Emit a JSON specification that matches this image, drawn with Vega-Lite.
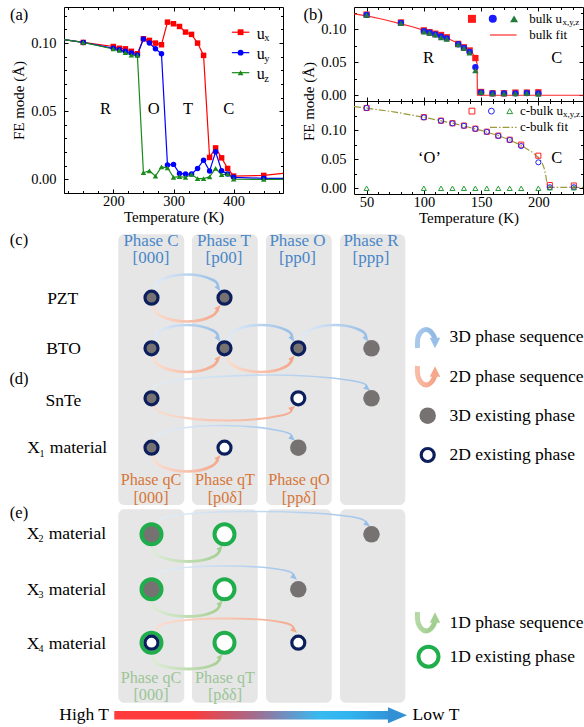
{
"$schema":"https://vega.github.io/schema/vega-lite/v6.json",
"padding":{"left":9,"top":6,"right":0,"bottom":0},
"config":{
 "font":"Liberation Serif, DejaVu Serif, serif",
 "view":{"stroke":"black","strokeWidth":1},
 "axis":{"domain":false,"grid":false,"tickColor":"black","tickSize":-4,"tickWidth":1,"labelFont":"Liberation Serif, DejaVu Serif, serif","labelFontSize":14.5,"labelColor":"black","titleFont":"Liberation Serif, DejaVu Serif, serif","titleFontSize":15,"titleFontWeight":"normal","titleColor":"black","labelPadding":5},
 "text":{"font":"Liberation Serif, DejaVu Serif, serif","color":"black"}
},
"resolve":{"scale":{"color":"independent","shape":"independent"}},
"datasets":{
 "aser":[
  {"c":"ux","T":100,"v":0.1036},{"c":"ux","T":150,"v":0.1005},{"c":"ux","T":200,"v":0.0975},{"c":"ux","T":210,"v":0.0962},{"c":"ux","T":220,"v":0.0958},{"c":"ux","T":230,"v":0.094},{"c":"ux","T":240,"v":0.0922},{"c":"ux","T":250,"v":0.1032},{"c":"ux","T":260,"v":0.102},{"c":"ux","T":270,"v":0.1},{"c":"ux","T":280,"v":0.0988},{"c":"ux","T":290,"v":0.1154},{"c":"ux","T":300,"v":0.1142},{"c":"ux","T":310,"v":0.1122},{"c":"ux","T":320,"v":0.1081},{"c":"ux","T":330,"v":0.1064},{"c":"ux","T":340,"v":0.1},{"c":"ux","T":350,"v":0.091},{"c":"ux","T":360,"v":0.0161},{"c":"ux","T":370,"v":0.0231},{"c":"ux","T":380,"v":0.0158},{"c":"ux","T":390,"v":0.008},{"c":"ux","T":400,"v":0.0024},{"c":"ux","T":450,"v":0.0029},{"c":"ux","T":500,"v":0.0053},
  {"c":"uy","T":100,"v":0.1036},{"c":"uy","T":150,"v":0.1005},{"c":"uy","T":200,"v":0.0962},{"c":"uy","T":210,"v":0.0952},{"c":"uy","T":220,"v":0.094},{"c":"uy","T":230,"v":0.0928},{"c":"uy","T":240,"v":0.0912},{"c":"uy","T":250,"v":0.103},{"c":"uy","T":260,"v":0.1},{"c":"uy","T":270,"v":0.0959},{"c":"uy","T":280,"v":0.0922},{"c":"uy","T":290,"v":0.0105},{"c":"uy","T":300,"v":0.011},{"c":"uy","T":310,"v":0.0044},{"c":"uy","T":320,"v":0.0039},{"c":"uy","T":330,"v":0.0039},{"c":"uy","T":340,"v":0.008},{"c":"uy","T":350,"v":0.0141},{"c":"uy","T":360,"v":0.0061},{"c":"uy","T":370,"v":0.0202},{"c":"uy","T":380,"v":0.0063},{"c":"uy","T":390,"v":0.0039},{"c":"uy","T":400,"v":0.0015},{"c":"uy","T":450,"v":0.0008},{"c":"uy","T":500,"v":0.0008},
  {"c":"uz","T":100,"v":0.1036},{"c":"uz","T":150,"v":0.1005},{"c":"uz","T":200,"v":0.0957},{"c":"uz","T":210,"v":0.0947},{"c":"uz","T":220,"v":0.093},{"c":"uz","T":230,"v":0.0912},{"c":"uz","T":240,"v":0.091},{"c":"uz","T":250,"v":0.0049},{"c":"uz","T":260,"v":0.0063},{"c":"uz","T":270,"v":0.0024},{"c":"uz","T":280,"v":0.0092},{"c":"uz","T":290,"v":0.0085},{"c":"uz","T":300,"v":0.0015},{"c":"uz","T":310,"v":0.002},{"c":"uz","T":320,"v":0.0015},{"c":"uz","T":330,"v":0.0037},{"c":"uz","T":340,"v":0.0005},{"c":"uz","T":350,"v":0.0005},{"c":"uz","T":360,"v":0.0019},{"c":"uz","T":370,"v":0.008},{"c":"uz","T":380,"v":0.0034},{"c":"uz","T":390,"v":0.004},{"c":"uz","T":400,"v":0.0002},{"c":"uz","T":450,"v":0},{"c":"uz","T":500,"v":0}
 ],
 "aleg":[
  {"c":"ux","T1":397,"T2":426,"Tm":411.5,"v":0.108,"Tt":438.5,"vt":0.107,"lab":"u","Ts":451,"vs":0.1035,"sub":"x"},
  {"c":"uy","T1":397,"T2":426,"Tm":411.5,"v":0.093,"Tt":438.5,"vt":0.092,"lab":"u","Ts":451,"vs":0.0885,"sub":"y"},
  {"c":"uz","T1":397,"T2":426,"Tm":411.5,"v":0.0783,"Tt":438.5,"vt":0.0773,"lab":"u","Ts":451,"vs":0.0738,"sub":"z"}
 ],
 "aph":[{"T":187,"v":0.052,"t":"R"},{"T":267,"v":0.052,"t":"O"},{"T":324,"v":0.052,"t":"T"},{"T":392,"v":0.052,"t":"C"}],
 "alab":[{"T":43.4,"v":0.1209,"t":"(a)"}],
 "bfit":[{"T":39,"v":0.1235},{"T":50,"v":0.1205},{"T":65,"v":0.115},{"T":80,"v":0.1085},{"T":90,"v":0.104},{"T":100,"v":0.0985},{"T":110,"v":0.093},{"T":120,"v":0.087},{"T":130,"v":0.079},{"T":135,"v":0.0745},{"T":140,"v":0.068},{"T":143,"v":0.0625},{"T":145,"v":0.0565},{"T":146.5,"v":0.048},{"T":146.8,"v":0},{"T":239,"v":0}],
 "bpts":[
  {"c":"ux","T":50,"v":0.1225},{"c":"ux","T":80,"v":0.1105},{"c":"ux","T":100,"v":0.0985},{"c":"ux","T":105,"v":0.0958},{"c":"ux","T":110,"v":0.0935},{"c":"ux","T":115,"v":0.0915},{"c":"ux","T":120,"v":0.088},{"c":"ux","T":130,"v":0.078},{"c":"ux","T":135,"v":0.0728},{"c":"ux","T":140,"v":0.068},{"c":"ux","T":145,"v":0.0565},{"c":"ux","T":150,"v":0.005},{"c":"ux","T":160,"v":0.003},{"c":"ux","T":170,"v":0.003},{"c":"ux","T":180,"v":0.004},{"c":"ux","T":190,"v":0.004},{"c":"ux","T":200,"v":0.0045},
  {"c":"uy","T":50,"v":0.122},{"c":"uy","T":80,"v":0.11},{"c":"uy","T":100,"v":0.0975},{"c":"uy","T":105,"v":0.095},{"c":"uy","T":110,"v":0.0925},{"c":"uy","T":115,"v":0.0895},{"c":"uy","T":120,"v":0.0865},{"c":"uy","T":130,"v":0.0775},{"c":"uy","T":135,"v":0.072},{"c":"uy","T":140,"v":0.066},{"c":"uy","T":145,"v":0.0425},{"c":"uy","T":150,"v":0.0045},{"c":"uy","T":160,"v":0.003},{"c":"uy","T":170,"v":0.003},{"c":"uy","T":180,"v":0.003},{"c":"uy","T":190,"v":0.0035},{"c":"uy","T":200,"v":0.003},
  {"c":"uz","T":50,"v":0.122},{"c":"uz","T":80,"v":0.1095},{"c":"uz","T":100,"v":0.0965},{"c":"uz","T":105,"v":0.0945},{"c":"uz","T":110,"v":0.092},{"c":"uz","T":115,"v":0.0878},{"c":"uz","T":120,"v":0.0855},{"c":"uz","T":130,"v":0.077},{"c":"uz","T":135,"v":0.0715},{"c":"uz","T":140,"v":0.0645},{"c":"uz","T":145,"v":0.0375},{"c":"uz","T":150,"v":0.0045},{"c":"uz","T":160,"v":0.0025},{"c":"uz","T":170,"v":0.0025},{"c":"uz","T":180,"v":0.0025},{"c":"uz","T":190,"v":0.003},{"c":"uz","T":200,"v":0.002}
 ],
 "bleg":[{"T":142,"v":0.116,"c":"ux"},{"T":160.2,"v":0.116,"c":"uy"},{"T":178.8,"v":0.116,"c":"uz"}],
 "blegfit":[{"T1":157.8,"T2":181,"v":0.0915}],
 "btext":[{"T":192,"v":0.116,"t":"bulk u"},{"T":192,"v":0.0915,"t":"bulk fit"}],
 "bsub":[{"T":221,"v":0.1112,"t":"x,y,z"}],
 "bph":[{"T":104,"v":0.0561,"t":"R"},{"T":216,"v":0.056,"t":"C"}],
 "blab":[{"T":3.2,"v":0.1213,"t":"(b)"}],
 "cfit":[{"T":39,"v":0.1405},{"T":50,"v":0.1378},{"T":75,"v":0.131},{"T":100,"v":0.122},{"T":125,"v":0.112},{"T":150,"v":0.0995},{"T":165,"v":0.0905},{"T":175,"v":0.083},{"T":185,"v":0.074},{"T":195,"v":0.0615},{"T":200,"v":0.053},{"T":203,"v":0.045},{"T":205,"v":0.035},{"T":206.5,"v":0.022},{"T":207.5,"v":0.009},{"T":208.5,"v":0.0015},{"T":239,"v":0.0015}],
 "cpts":[
  {"c":"ux","T":50,"v":0.138},{"c":"ux","T":100,"v":0.1222},{"c":"ux","T":115,"v":0.1162},{"c":"ux","T":125,"v":0.1118},{"c":"ux","T":135,"v":0.1077},{"c":"ux","T":145,"v":0.1025},{"c":"ux","T":155,"v":0.0972},{"c":"ux","T":165,"v":0.0905},{"c":"ux","T":175,"v":0.0835},{"c":"ux","T":185,"v":0.075},{"c":"ux","T":200,"v":0.056},{"c":"ux","T":210,"v":0.0055},{"c":"ux","T":231,"v":0.0048},
  {"c":"uy","T":50,"v":0.138},{"c":"uy","T":100,"v":0.1218},{"c":"uy","T":115,"v":0.116},{"c":"uy","T":125,"v":0.1115},{"c":"uy","T":135,"v":0.1074},{"c":"uy","T":145,"v":0.1022},{"c":"uy","T":155,"v":0.097},{"c":"uy","T":165,"v":0.09},{"c":"uy","T":175,"v":0.083},{"c":"uy","T":185,"v":0.0726},{"c":"uy","T":200,"v":0.0446},{"c":"uy","T":210,"v":0.0018},{"c":"uy","T":231,"v":0.0018},
  {"c":"uz","T":50,"v":0},{"c":"uz","T":100,"v":0},{"c":"uz","T":115,"v":0},{"c":"uz","T":125,"v":0},{"c":"uz","T":135,"v":0},{"c":"uz","T":145,"v":0},{"c":"uz","T":155,"v":0},{"c":"uz","T":165,"v":0},{"c":"uz","T":175,"v":0},{"c":"uz","T":185,"v":0},{"c":"uz","T":200,"v":0},{"c":"uz","T":210,"v":0.001},{"c":"uz","T":231,"v":0.001}
 ],
 "cleg":[{"T":142,"v":0.1326,"c":"ux"},{"T":159,"v":0.1326,"c":"uy"},{"T":175,"v":0.1326,"c":"uz"}],
 "clegfit":[{"T1":157.8,"T2":181,"v":0.1046}],
 "ctext":[{"T":184,"v":0.1326,"t":"c-bulk u"},{"T":184,"v":0.1046,"t":"c-bulk fit"}],
 "csub":[{"T":221.6,"v":0.1278,"t":"x,y,z"}],
 "cph":[{"T":105,"v":0.0515,"t":"‘O’"},{"T":216,"v":0.0515,"t":"C"}],
 "dcol":[
  {"x":117.3,"x2":183.3,"y":234.3,"y2":505},{"x":191,"x2":256.7,"y":234.3,"y2":505},{"x":265,"x2":330.7,"y":234.3,"y2":505},{"x":339,"x2":404.3,"y":234.3,"y2":505},
  {"x":117.3,"x2":183.3,"y":509.3,"y2":702.7},{"x":191,"x2":256.7,"y":509.3,"y2":702.7},{"x":265,"x2":330.7,"y":509.3,"y2":702.7},{"x":339,"x2":404.3,"y":509.3,"y2":702.7}
 ],
 "darc":[
  {"id":"pzt_b","c":"b","s":1,"x":154,"y":290},{"id":"pzt_b","c":"b","s":1,"x":159,"y":280.5},{"id":"pzt_b","c":"b","s":1,"x":186,"y":274.5},{"id":"pzt_b","c":"b","s":1,"x":212,"y":280},{"id":"pzt_b","c":"b","s":1,"x":217,"y":287},
  {"id":"pzt_o","c":"o","s":1,"x":153,"y":306},{"id":"pzt_o","c":"o","s":1,"x":159,"y":315.5},{"id":"pzt_o","c":"o","s":1,"x":186,"y":321.5},{"id":"pzt_o","c":"o","s":1,"x":211,"y":316},{"id":"pzt_o","c":"o","s":1,"x":217,"y":308},
  {"id":"bto_b1","c":"b","s":1,"x":154,"y":341},{"id":"bto_b1","c":"b","s":1,"x":159,"y":331},{"id":"bto_b1","c":"b","s":1,"x":186,"y":325},{"id":"bto_b1","c":"b","s":1,"x":212,"y":330.5},{"id":"bto_b1","c":"b","s":1,"x":217,"y":338},
  {"id":"bto_b2","c":"b","s":1,"x":228,"y":341},{"id":"bto_b2","c":"b","s":1,"x":233,"y":331},{"id":"bto_b2","c":"b","s":1,"x":260,"y":325},{"id":"bto_b2","c":"b","s":1,"x":286,"y":330.5},{"id":"bto_b2","c":"b","s":1,"x":291,"y":338},
  {"id":"bto_b3","c":"b","s":1,"x":302,"y":341},{"id":"bto_b3","c":"b","s":1,"x":307,"y":331},{"id":"bto_b3","c":"b","s":1,"x":334,"y":325},{"id":"bto_b3","c":"b","s":1,"x":360,"y":330.5},{"id":"bto_b3","c":"b","s":1,"x":365,"y":338},
  {"id":"bto_o1","c":"o","s":1,"x":153,"y":357},{"id":"bto_o1","c":"o","s":1,"x":159,"y":366},{"id":"bto_o1","c":"o","s":1,"x":186,"y":372},{"id":"bto_o1","c":"o","s":1,"x":211,"y":366.5},{"id":"bto_o1","c":"o","s":1,"x":217,"y":358.5},
  {"id":"bto_o2","c":"o","s":1,"x":227,"y":357},{"id":"bto_o2","c":"o","s":1,"x":233,"y":366},{"id":"bto_o2","c":"o","s":1,"x":260,"y":372},{"id":"bto_o2","c":"o","s":1,"x":285,"y":366.5},{"id":"bto_o2","c":"o","s":1,"x":291,"y":358.5},
  {"id":"snte_b","c":"b","s":3,"x":154,"y":391},{"id":"snte_b","c":"b","s":3,"x":168,"y":381.5},{"id":"snte_b","c":"b","s":3,"x":262,"y":375},{"id":"snte_b","c":"b","s":3,"x":350,"y":380.5},{"id":"snte_b","c":"b","s":3,"x":366,"y":388},
  {"id":"snte_o","c":"o","s":2,"x":153,"y":406},{"id":"snte_o","c":"o","s":2,"x":168,"y":415},{"id":"snte_o","c":"o","s":2,"x":225,"y":420.5},{"id":"snte_o","c":"o","s":2,"x":280,"y":415.5},{"id":"snte_o","c":"o","s":2,"x":291,"y":408.5},
  {"id":"x1_b","c":"b","s":2,"x":154,"y":441},{"id":"x1_b","c":"b","s":2,"x":165,"y":431.5},{"id":"x1_b","c":"b","s":2,"x":222,"y":425.5},{"id":"x1_b","c":"b","s":2,"x":280,"y":431},{"id":"x1_b","c":"b","s":2,"x":291,"y":438},
  {"id":"x1_o","c":"o","s":1,"x":153,"y":456},{"id":"x1_o","c":"o","s":1,"x":159,"y":465.5},{"id":"x1_o","c":"o","s":1,"x":186,"y":471.5},{"id":"x1_o","c":"o","s":1,"x":211,"y":466},{"id":"x1_o","c":"o","s":1,"x":217,"y":458},
  {"id":"x2_b","c":"b","s":3,"x":157,"y":523},{"id":"x2_b","c":"b","s":3,"x":173,"y":515.5},{"id":"x2_b","c":"b","s":3,"x":255,"y":511.5},{"id":"x2_b","c":"b","s":3,"x":345,"y":516},{"id":"x2_b","c":"b","s":3,"x":366,"y":524},
  {"id":"x2_g","c":"g","s":1,"x":152,"y":547},{"id":"x2_g","c":"g","s":1,"x":158,"y":556},{"id":"x2_g","c":"g","s":1,"x":187,"y":561.5},{"id":"x2_g","c":"g","s":1,"x":213,"y":556.5},{"id":"x2_g","c":"g","s":1,"x":219,"y":548.5},
  {"id":"x3_b","c":"b","s":2,"x":156,"y":577},{"id":"x3_b","c":"b","s":2,"x":168,"y":569.5},{"id":"x3_b","c":"b","s":2,"x":227,"y":566},{"id":"x3_b","c":"b","s":2,"x":282,"y":570},{"id":"x3_b","c":"b","s":2,"x":293,"y":577},
  {"id":"x3_g","c":"g","s":1,"x":152,"y":602},{"id":"x3_g","c":"g","s":1,"x":158,"y":611},{"id":"x3_g","c":"g","s":1,"x":187,"y":616.5},{"id":"x3_g","c":"g","s":1,"x":213,"y":611.5},{"id":"x3_g","c":"g","s":1,"x":219,"y":603.5},
  {"id":"x4_o","c":"o","s":2,"x":156,"y":631},{"id":"x4_o","c":"o","s":2,"x":168,"y":622.5},{"id":"x4_o","c":"o","s":2,"x":227,"y":618.5},{"id":"x4_o","c":"o","s":2,"x":282,"y":622.5},{"id":"x4_o","c":"o","s":2,"x":293,"y":630},
  {"id":"x4_g","c":"g","s":1,"x":152,"y":656},{"id":"x4_g","c":"g","s":1,"x":158,"y":664.5},{"id":"x4_g","c":"g","s":1,"x":187,"y":669},{"id":"x4_g","c":"g","s":1,"x":213,"y":664.5},{"id":"x4_g","c":"g","s":1,"x":219,"y":657}
 ],
 "darr":[
  {"x":217.5,"y":288.5,"c":"b","ang":55},{"x":217.5,"y":307.5,"c":"o","ang":-50},
  {"x":217.5,"y":339,"c":"b","ang":55},{"x":291.5,"y":339,"c":"b","ang":55},{"x":365.5,"y":339,"c":"b","ang":55},
  {"x":217.5,"y":358,"c":"o","ang":-50},{"x":291.5,"y":358,"c":"o","ang":-50},
  {"x":366.5,"y":388.5,"c":"b","ang":35},{"x":291.5,"y":408,"c":"o","ang":-35},
  {"x":291.5,"y":438.5,"c":"b","ang":40},{"x":217.5,"y":457.5,"c":"o","ang":-50},
  {"x":366.5,"y":524.5,"c":"b","ang":35},{"x":219.5,"y":548,"c":"g","ang":-50},
  {"x":293.5,"y":577.5,"c":"b","ang":40},{"x":219.5,"y":603,"c":"g","ang":-50},
  {"x":293.5,"y":630.5,"c":"o","ang":40},{"x":219.5,"y":656.5,"c":"g","ang":-50}
 ],
 "dlarc":[
  {"id":"l3","c":"b","x":416.5,"y":348},{"id":"l3","c":"b","x":417.5,"y":336},{"id":"l3","c":"b","x":425,"y":329.5},{"id":"l3","c":"b","x":432,"y":334.5},{"id":"l3","c":"b","x":434,"y":340},
  {"id":"l2","c":"o","x":416.5,"y":366},{"id":"l2","c":"o","x":417.5,"y":378},{"id":"l2","c":"o","x":425,"y":385},{"id":"l2","c":"o","x":432,"y":380},{"id":"l2","c":"o","x":434,"y":374.5},
  {"id":"l1","c":"g","x":416.5,"y":612},{"id":"l1","c":"g","x":417.5,"y":624},{"id":"l1","c":"g","x":425,"y":631},{"id":"l1","c":"g","x":432,"y":626},{"id":"l1","c":"g","x":434,"y":620.5}
 ],
 "dlarr":[{"x":434,"y":343,"c":"b","ang":90},{"x":434,"y":371.5,"c":"o","ang":-90},{"x":434,"y":617.5,"c":"g","ang":-90}],
 "dcirc":[
  {"x":150.5,"y":297.7,"d3":true,"d2":true,"d1":false},{"x":223.5,"y":297.7,"d3":true,"d2":true,"d1":false},
  {"x":150.5,"y":348.3,"d3":true,"d2":true,"d1":false},{"x":223.5,"y":348.3,"d3":true,"d2":true,"d1":false},{"x":297.3,"y":348.3,"d3":true,"d2":true,"d1":false},{"x":370.5,"y":348.3,"d3":true,"d2":false,"d1":false},
  {"x":150.5,"y":398.3,"d3":true,"d2":true,"d1":false},{"x":297.3,"y":398.3,"d3":false,"d2":true,"d1":false},{"x":370.5,"y":398.3,"d3":true,"d2":false,"d1":false},
  {"x":150.5,"y":447.7,"d3":true,"d2":true,"d1":false},{"x":223.5,"y":447.7,"d3":false,"d2":true,"d1":false},{"x":297.3,"y":447.7,"d3":true,"d2":false,"d1":false},
  {"x":150.5,"y":534.3,"d3":true,"d2":false,"d1":true},{"x":223.5,"y":534.3,"d3":false,"d2":false,"d1":true},{"x":370.5,"y":534.3,"d3":true,"d2":false,"d1":false},
  {"x":150.5,"y":589.3,"d3":true,"d2":false,"d1":true},{"x":223.5,"y":589.3,"d3":false,"d2":false,"d1":true},{"x":297.3,"y":589.3,"d3":true,"d2":false,"d1":false},
  {"x":150.5,"y":642.7,"d3":false,"d2":true,"d1":true},{"x":223.5,"y":642.7,"d3":false,"d2":false,"d1":true},{"x":297.3,"y":642.7,"d3":false,"d2":true,"d1":false},
  {"x":426.7,"y":415.7,"d3":true,"d2":false,"d1":false},{"x":426.7,"y":455,"d3":false,"d2":true,"d1":false},{"x":427.5,"y":656.7,"d3":false,"d2":false,"d1":true}
 ],
 "dh3":[{"x":150,"y":240.5,"t":"Phase C"},{"x":150,"y":258,"t":"[000]"},{"x":223,"y":240.5,"t":"Phase T"},{"x":223,"y":258,"t":"[p00]"},{"x":296.5,"y":240.5,"t":"Phase O"},{"x":296.5,"y":258,"t":"[pp0]"},{"x":370,"y":240.5,"t":"Phase R"},{"x":370,"y":258,"t":"[ppp]"}],
 "dh2":[{"x":150,"y":480,"t":"Phase qC"},{"x":150,"y":497.5,"t":"[000]"},{"x":224,"y":480,"t":"Phase qT"},{"x":224,"y":497.5,"t":"[p0δ]"},{"x":298,"y":480,"t":"Phase qO"},{"x":298,"y":497.5,"t":"[ppδ]"}],
 "dh1":[{"x":150,"y":677.5,"t":"Phase qC"},{"x":150,"y":695,"t":"[000]"},{"x":224,"y":677.5,"t":"Phase qT"},{"x":224,"y":695,"t":"[pδδ]"}],
 "drow":[{"x":61.7,"y":299,"t":"PZT"},{"x":62.5,"y":349,"t":"BTO"},{"x":62.3,"y":400.5,"t":"SnTe"}],
 "dtxt":[
  {"x":26.3,"y":448,"t":"X"},{"x":48.8,"y":448,"t":"material"},
  {"x":25.7,"y":533.5,"t":"X"},{"x":47.7,"y":533.5,"t":"material"},
  {"x":25.7,"y":589.5,"t":"X"},{"x":47.7,"y":589.5,"t":"material"},
  {"x":25.7,"y":643.5,"t":"X"},{"x":47.7,"y":643.5,"t":"material"},
  {"x":448.5,"y":336.7,"t":"3D phase sequence"},{"x":448.5,"y":376.7,"t":"2D phase sequence"},{"x":448.5,"y":415.7,"t":"3D existing phase"},{"x":448.5,"y":455,"t":"2D existing phase"},
  {"x":448.5,"y":623.3,"t":"1D phase sequence"},{"x":448.5,"y":656.7,"t":"1D existing phase"},
  {"x":58.3,"y":715,"t":"High T"},{"x":411.5,"y":715,"t":"Low T"}
 ],
 "dsub":[{"x":38.5,"y":453.5,"t":"1"},{"x":37.5,"y":539,"t":"2"},{"x":37.5,"y":595,"t":"3"},{"x":37.5,"y":649,"t":"4"}],
 "dpl":[{"x":18,"y":240,"t":"(c)"},{"x":18,"y":379,"t":"(d)"},{"x":18,"y":512.7,"t":"(e)"}],
 "dbar":[{"x":113.3,"x2":390,"y":711,"y2":719.5}],
 "dtip":[{"x":396.5,"y":715.3}]
},
"spacing":0,
"vconcat":[
 {"spacing":17,"resolve":{"scale":{"color":"independent","shape":"independent"}},"hconcat":[
  {"width":219,"height":186,
   "layer":[
    {"data":{"name":"aser"},"mark":{"type":"line","clip":true,"strokeWidth":1.2},
     "encoding":{
      "x":{"field":"T","type":"quantitative","scale":{"domain":[118,482],"nice":false,"zero":false},"axis":{"orient":"bottom","values":[200,300,400],"title":"Temperature (K)","titlePadding":2}},
      "y":{"field":"v","type":"quantitative","scale":{"domain":[-0.01,0.1265],"nice":false,"zero":false},"axis":{"orient":"left","values":[0,0.05,0.1],"format":".2f","title":"FE mode (Å)","labelPadding":12,"titlePadding":4}},
      "color":{"field":"c","type":"nominal","scale":{"domain":["ux","uy","uz"],"range":["#ff0000","#0000ff","#1a8a1a"]},"legend":null}}},
    {"data":{"name":"aser"},"mark":{"type":"point","filled":true,"size":30,"opacity":1,"clip":true},
     "encoding":{
      "x":{"field":"T","type":"quantitative","scale":{"domain":[118,482],"nice":false,"zero":false},"axis":{"orient":"top","values":[200,300,400],"labels":false,"title":null}},
      "y":{"field":"v","type":"quantitative","scale":{"domain":[-0.01,0.1265],"nice":false,"zero":false},"axis":{"orient":"right","values":[0,0.05,0.1],"labels":false,"title":null}},
      "color":{"field":"c","type":"nominal","scale":{"domain":["ux","uy","uz"],"range":["#ff0000","#0000ff","#1a8a1a"]},"legend":null},
      "shape":{"field":"c","type":"nominal","scale":{"domain":["ux","uy","uz"],"range":["square","circle","triangle-up"]},"legend":null}}},
    {"data":{"name":"aleg"},"mark":{"type":"rule","strokeWidth":1.2},
     "encoding":{
      "x":{"field":"T1","type":"quantitative","scale":{"domain":[118,482],"nice":false,"zero":false},"axis":{"orient":"bottom","values":[125,150,175,225,250,275,325,350,375,425,450,475],"labels":false,"title":null,"tickSize":-2.5}},
      "x2":{"field":"T2"},
      "y":{"field":"v","type":"quantitative","scale":{"domain":[-0.01,0.1265],"nice":false,"zero":false},"axis":{"orient":"left","values":[-0.01,0.01,0.02,0.03,0.04,0.06,0.07,0.08,0.09,0.11,0.12],"labels":false,"title":null,"tickSize":-2.5}},
      "color":{"field":"c","type":"nominal","scale":{"domain":["ux","uy","uz"],"range":["#ff0000","#0000ff","#1a8a1a"]},"legend":null}}},
    {"data":{"name":"aleg"},"mark":{"type":"point","filled":true,"size":34,"opacity":1},
     "encoding":{
      "x":{"field":"Tm","type":"quantitative","scale":{"domain":[118,482],"nice":false,"zero":false},"axis":{"orient":"top","values":[125,150,175,225,250,275,325,350,375,425,450,475],"labels":false,"title":null,"tickSize":-2.5}},
      "y":{"field":"v","type":"quantitative","scale":{"domain":[-0.01,0.1265],"nice":false,"zero":false},"axis":{"orient":"right","values":[-0.01,0.01,0.02,0.03,0.04,0.06,0.07,0.08,0.09,0.11,0.12],"labels":false,"title":null,"tickSize":-2.5}},
      "color":{"field":"c","type":"nominal","scale":{"domain":["ux","uy","uz"],"range":["#ff0000","#0000ff","#1a8a1a"]},"legend":null},
      "shape":{"field":"c","type":"nominal","scale":{"domain":["ux","uy","uz"],"range":["square","circle","triangle-up"]},"legend":null}}},
    {"data":{"name":"aleg"},"mark":{"type":"text","align":"left","baseline":"middle","fontSize":16},
     "encoding":{
      "x":{"field":"Tt","type":"quantitative","scale":{"domain":[118,482],"nice":false,"zero":false},"axis":null},
      "y":{"field":"vt","type":"quantitative","scale":{"domain":[-0.01,0.1265],"nice":false,"zero":false},"axis":null},
      "text":{"field":"lab"}}},
    {"data":{"name":"aleg"},"mark":{"type":"text","align":"left","baseline":"middle","fontSize":10.5},
     "encoding":{
      "x":{"field":"Ts","type":"quantitative","scale":{"domain":[118,482],"nice":false,"zero":false},"axis":null},
      "y":{"field":"vs","type":"quantitative","scale":{"domain":[-0.01,0.1265],"nice":false,"zero":false},"axis":null},
      "text":{"field":"sub"}}},
    {"data":{"name":"aph"},"mark":{"type":"text","align":"center","baseline":"middle","fontSize":16.5},
     "encoding":{
      "x":{"field":"T","type":"quantitative","scale":{"domain":[118,482],"nice":false,"zero":false},"axis":null},
      "y":{"field":"v","type":"quantitative","scale":{"domain":[-0.01,0.1265],"nice":false,"zero":false},"axis":null},
      "text":{"field":"t"}}},
    {"data":{"name":"alab"},"mark":{"type":"text","align":"center","baseline":"middle","fontSize":16.5},
     "encoding":{
      "x":{"field":"T","type":"quantitative","scale":{"domain":[118,482],"nice":false,"zero":false},"axis":null},
      "y":{"field":"v","type":"quantitative","scale":{"domain":[-0.01,0.1265],"nice":false,"zero":false},"axis":null},
      "text":{"field":"t"}}}
   ],
   "resolve":{"axis":{"x":"independent","y":"independent"}}
  },
  {"spacing":0,"bounds":"flush","resolve":{"scale":{"color":"independent","shape":"independent"}},"vconcat":[
   {"width":229,"height":94,
    "layer":[
     {"data":{"name":"bfit"},"mark":{"type":"line","clip":true,"strokeWidth":1.2,"color":"#ff2a2a"},
      "encoding":{
       "x":{"field":"T","type":"quantitative","scale":{"domain":[39,239],"nice":false,"zero":false},"axis":{"orient":"bottom","values":[50,100,150,200],"labels":false,"title":null}},
       "y":{"field":"v","type":"quantitative","scale":{"domain":[-0.0087,0.134],"nice":false,"zero":false},"axis":{"orient":"left","values":[0,0.05,0.1],"format":".2f","title":null,"labelPadding":12}}}},
     {"data":{"name":"bpts"},"mark":{"type":"point","filled":true,"size":40,"opacity":1},
      "encoding":{
       "x":{"field":"T","type":"quantitative","scale":{"domain":[39,239],"nice":false,"zero":false},"axis":{"orient":"top","values":[50,100,150,200],"labels":false,"title":null}},
       "y":{"field":"v","type":"quantitative","scale":{"domain":[-0.0087,0.134],"nice":false,"zero":false},"axis":{"orient":"right","values":[0,0.05,0.1],"labels":false,"title":null}},
       "color":{"field":"c","type":"nominal","scale":{"domain":["ux","uy","uz"],"range":["#ff1a1a","#1a1aff","#217a3c"]},"legend":null},
       "shape":{"field":"c","type":"nominal","scale":{"domain":["ux","uy","uz"],"range":["square","circle","triangle-up"]},"legend":null}}},
     {"data":{"name":"bleg"},"mark":{"type":"point","filled":true,"size":64,"opacity":1},
      "encoding":{
       "x":{"field":"T","type":"quantitative","scale":{"domain":[39,239],"nice":false,"zero":false},"axis":{"orient":"bottom","values":[60,70,80,90,110,120,130,140,160,170,180,190,210,220,230],"labels":false,"title":null,"tickSize":-2.5}},
       "y":{"field":"v","type":"quantitative","scale":{"domain":[-0.0087,0.134],"nice":false,"zero":false},"axis":{"orient":"left","values":[0.025,0.075,0.125],"labels":false,"title":null,"tickSize":-2.5}},
       "color":{"field":"c","type":"nominal","scale":{"domain":["ux","uy","uz"],"range":["#ff1a1a","#1a1aff","#217a3c"]},"legend":null},
       "shape":{"field":"c","type":"nominal","scale":{"domain":["ux","uy","uz"],"range":["square","circle","triangle-up"]},"legend":null}}},
     {"data":{"name":"blegfit"},"mark":{"type":"rule","strokeWidth":1.2,"color":"#ff2a2a"},
      "encoding":{
       "x":{"field":"T1","type":"quantitative","scale":{"domain":[39,239],"nice":false,"zero":false},"axis":{"orient":"top","values":[60,70,80,90,110,120,130,140,160,170,180,190,210,220,230],"labels":false,"title":null,"tickSize":-2.5}},
       "x2":{"field":"T2"},
       "y":{"field":"v","type":"quantitative","scale":{"domain":[-0.0087,0.134],"nice":false,"zero":false},"axis":{"orient":"right","values":[0.025,0.075,0.125],"labels":false,"title":null,"tickSize":-2.5}}}},
     {"data":{"name":"btext"},"mark":{"type":"text","align":"left","baseline":"middle","fontSize":13},
      "encoding":{
       "x":{"field":"T","type":"quantitative","scale":{"domain":[39,239],"nice":false,"zero":false},"axis":null},
       "y":{"field":"v","type":"quantitative","scale":{"domain":[-0.0087,0.134],"nice":false,"zero":false},"axis":null},
       "text":{"field":"t"}}},
     {"data":{"name":"bsub"},"mark":{"type":"text","align":"left","baseline":"middle","fontSize":9},
      "encoding":{
       "x":{"field":"T","type":"quantitative","scale":{"domain":[39,239],"nice":false,"zero":false},"axis":null},
       "y":{"field":"v","type":"quantitative","scale":{"domain":[-0.0087,0.134],"nice":false,"zero":false},"axis":null},
       "text":{"field":"t"}}},
     {"data":{"name":"bph"},"mark":{"type":"text","align":"center","baseline":"middle","fontSize":16.5},
      "encoding":{
       "x":{"field":"T","type":"quantitative","scale":{"domain":[39,239],"nice":false,"zero":false},"axis":null},
       "y":{"field":"v","type":"quantitative","scale":{"domain":[-0.0087,0.134],"nice":false,"zero":false},"axis":null},
       "text":{"field":"t"}}},
     {"data":{"name":"blab"},"mark":{"type":"text","align":"center","baseline":"middle","fontSize":16.5},
      "encoding":{
       "x":{"field":"T","type":"quantitative","scale":{"domain":[39,239],"nice":false,"zero":false},"axis":null},
       "y":{"field":"v","type":"quantitative","scale":{"domain":[-0.0087,0.134],"nice":false,"zero":false},"axis":null},
       "text":{"field":"t"}}}
    ],
    "resolve":{"axis":{"x":"independent","y":"independent"}}
   },
   {"width":229,"height":93,
    "layer":[
     {"data":{"name":"cfit"},"mark":{"type":"line","clip":true,"strokeWidth":1.2,"color":"#9c9a3c","strokeDash":[7,2,1.5,2]},
      "encoding":{
       "x":{"field":"T","type":"quantitative","scale":{"domain":[39,239],"nice":false,"zero":false},"axis":{"orient":"bottom","values":[50,100,150,200],"title":"Temperature (K)","titlePadding":2}},
       "y":{"field":"v","type":"quantitative","scale":{"domain":[-0.0098,0.15],"nice":false,"zero":false},"axis":{"orient":"left","values":[0,0.05,0.1],"format":".2f","title":"FE mode (Å)","titleY":0,"labelPadding":12,"titlePadding":4}}}},
     {"data":{"name":"cpts"},"mark":{"type":"point","filled":false,"size":26,"strokeWidth":1,"opacity":1},
      "encoding":{
       "x":{"field":"T","type":"quantitative","scale":{"domain":[39,239],"nice":false,"zero":false},"axis":{"orient":"top","values":[50,100,150,200],"labels":false,"title":null}},
       "y":{"field":"v","type":"quantitative","scale":{"domain":[-0.0098,0.15],"nice":false,"zero":false},"axis":{"orient":"right","values":[0,0.05,0.1],"labels":false,"title":null}},
       "color":{"field":"c","type":"nominal","scale":{"domain":["ux","uy","uz"],"range":["#ff2020","#2020ff","#2a9a3a"]},"legend":null},
       "shape":{"field":"c","type":"nominal","scale":{"domain":["ux","uy","uz"],"range":["square","circle","triangle-up"]},"legend":null}}},
     {"data":{"name":"cleg"},"mark":{"type":"point","filled":false,"size":34,"strokeWidth":1,"opacity":1},
      "encoding":{
       "x":{"field":"T","type":"quantitative","scale":{"domain":[39,239],"nice":false,"zero":false},"axis":{"orient":"bottom","values":[60,70,80,90,110,120,130,140,160,170,180,190,210,220,230],"labels":false,"title":null,"tickSize":-2.5}},
       "y":{"field":"v","type":"quantitative","scale":{"domain":[-0.0098,0.15],"nice":false,"zero":false},"axis":{"orient":"left","values":[0.025,0.075,0.125],"labels":false,"title":null,"tickSize":-2.5}},
       "color":{"field":"c","type":"nominal","scale":{"domain":["ux","uy","uz"],"range":["#ff2020","#2020ff","#2a9a3a"]},"legend":null},
       "shape":{"field":"c","type":"nominal","scale":{"domain":["ux","uy","uz"],"range":["square","circle","triangle-up"]},"legend":null}}},
     {"data":{"name":"clegfit"},"mark":{"type":"rule","strokeWidth":1.2,"color":"#9c9a3c","strokeDash":[7,2,1.5,2]},
      "encoding":{
       "x":{"field":"T1","type":"quantitative","scale":{"domain":[39,239],"nice":false,"zero":false},"axis":{"orient":"top","values":[60,70,80,90,110,120,130,140,160,170,180,190,210,220,230],"labels":false,"title":null,"tickSize":-2.5}},
       "x2":{"field":"T2"},
       "y":{"field":"v","type":"quantitative","scale":{"domain":[-0.0098,0.15],"nice":false,"zero":false},"axis":{"orient":"right","values":[0.025,0.075,0.125],"labels":false,"title":null,"tickSize":-2.5}}}},
     {"data":{"name":"ctext"},"mark":{"type":"text","align":"left","baseline":"middle","fontSize":13},
      "encoding":{
       "x":{"field":"T","type":"quantitative","scale":{"domain":[39,239],"nice":false,"zero":false},"axis":null},
       "y":{"field":"v","type":"quantitative","scale":{"domain":[-0.0098,0.15],"nice":false,"zero":false},"axis":null},
       "text":{"field":"t"}}},
     {"data":{"name":"csub"},"mark":{"type":"text","align":"left","baseline":"middle","fontSize":9},
      "encoding":{
       "x":{"field":"T","type":"quantitative","scale":{"domain":[39,239],"nice":false,"zero":false},"axis":null},
       "y":{"field":"v","type":"quantitative","scale":{"domain":[-0.0098,0.15],"nice":false,"zero":false},"axis":null},
       "text":{"field":"t"}}},
     {"data":{"name":"cph"},"mark":{"type":"text","align":"center","baseline":"middle","fontSize":16.5},
      "encoding":{
       "x":{"field":"T","type":"quantitative","scale":{"domain":[39,239],"nice":false,"zero":false},"axis":null},
       "y":{"field":"v","type":"quantitative","scale":{"domain":[-0.0098,0.15],"nice":false,"zero":false},"axis":null},
       "text":{"field":"t"}}}
    ],
    "resolve":{"axis":{"x":"independent","y":"independent"}}
   }
  ]}
 ]},
 {"width":521,"height":501,
  "view":{"stroke":null},
  "encoding":{
   "x":{"field":"x","type":"quantitative","scale":{"domain":[63,584],"nice":false,"zero":false},"axis":null},
   "y":{"field":"y","type":"quantitative","scale":{"domain":[226,727],"nice":false,"zero":false,"reverse":true},"axis":null}
  },
  "layer":[
   {"data":{"name":"dcol"},"mark":{"type":"rect","fill":"#e6e6e6","cornerRadius":6},
    "encoding":{"x2":{"field":"x2"},"y2":{"field":"y2"}}},
   {"data":{"name":"darc"},"transform":[{"filter":"datum.c=='b' && datum.s==1"}],
    "mark":{"type":"line","interpolate":"natural","strokeWidth":2.6,"stroke":{"gradient":"linear","x1":0,"y1":0,"x2":1,"y2":0,"stops":[{"offset":0,"color":"#dfeaf7"},{"offset":1,"color":"#98bfe7"}]}},
    "encoding":{"detail":{"field":"id"}}},
   {"data":{"name":"darc"},"transform":[{"filter":"datum.c=='b' && datum.s>1"}],
    "mark":{"type":"line","interpolate":"natural","strokeWidth":1.7,"stroke":{"gradient":"linear","x1":0,"y1":0,"x2":1,"y2":0,"stops":[{"offset":0,"color":"#e2ecf7"},{"offset":1,"color":"#a2c5ea"}]}},
    "encoding":{"detail":{"field":"id"}}},
   {"data":{"name":"darc"},"transform":[{"filter":"datum.c=='o' && datum.s==1"}],
    "mark":{"type":"line","interpolate":"natural","strokeWidth":2.6,"stroke":{"gradient":"linear","x1":0,"y1":0,"x2":1,"y2":0,"stops":[{"offset":0,"color":"#fbdccf"},{"offset":1,"color":"#f4a88c"}]}},
    "encoding":{"detail":{"field":"id"}}},
   {"data":{"name":"darc"},"transform":[{"filter":"datum.c=='o' && datum.s>1"}],
    "mark":{"type":"line","interpolate":"natural","strokeWidth":1.9,"stroke":{"gradient":"linear","x1":0,"y1":0,"x2":1,"y2":0,"stops":[{"offset":0,"color":"#fbdccf"},{"offset":1,"color":"#f4ab90"}]}},
    "encoding":{"detail":{"field":"id"}}},
   {"data":{"name":"darc"},"transform":[{"filter":"datum.c=='g'"}],
    "mark":{"type":"line","interpolate":"natural","strokeWidth":2.8,"stroke":{"gradient":"linear","x1":0,"y1":0,"x2":1,"y2":0,"stops":[{"offset":0,"color":"#dcecd4"},{"offset":1,"color":"#a6d093"}]}},
    "encoding":{"detail":{"field":"id"}}},
   {"data":{"name":"darr"},"mark":{"type":"point","filled":true,"shape":"M-1,-0.8L1,0L-1,0.8Z","size":44,"opacity":1,"strokeWidth":0},
    "encoding":{
     "color":{"field":"c","type":"nominal","scale":{"domain":["b","o","g"],"range":["#98bfe7","#f4a88c","#a6d093"]},"legend":null},
     "angle":{"field":"ang","type":"quantitative","scale":null}}},
   {"data":{"name":"dlarc"},"transform":[{"filter":"datum.c=='b'"}],
    "mark":{"type":"line","interpolate":"natural","strokeWidth":5,"stroke":{"gradient":"linear","x1":0,"y1":0,"x2":1,"y2":0,"stops":[{"offset":0,"color":"#a9c9ec"},{"offset":1,"color":"#8fb8e4"}]}},
    "encoding":{"detail":{"field":"id"}}},
   {"data":{"name":"dlarc"},"transform":[{"filter":"datum.c=='o'"}],
    "mark":{"type":"line","interpolate":"natural","strokeWidth":5,"stroke":{"gradient":"linear","x1":0,"y1":0,"x2":1,"y2":0,"stops":[{"offset":0,"color":"#f8bba5"},{"offset":1,"color":"#f4a386"}]}},
    "encoding":{"detail":{"field":"id"}}},
   {"data":{"name":"dlarc"},"transform":[{"filter":"datum.c=='g'"}],
    "mark":{"type":"line","interpolate":"natural","strokeWidth":5,"stroke":{"gradient":"linear","x1":0,"y1":0,"x2":1,"y2":0,"stops":[{"offset":0,"color":"#b4d9a5"},{"offset":1,"color":"#9ccc8a"}]}},
    "encoding":{"detail":{"field":"id"}}},
   {"data":{"name":"dlarr"},"mark":{"type":"point","filled":true,"shape":"M-1,-1L1,0L-1,1Z","size":110,"opacity":1,"strokeWidth":0},
    "encoding":{
     "color":{"field":"c","type":"nominal","scale":{"domain":["b","o","g"],"range":["#8fb8e4","#f4a386","#9ccc8a"]},"legend":null},
     "angle":{"field":"ang","type":"quantitative","scale":null}}},
   {"data":{"name":"dcirc"},"transform":[{"filter":"datum.d1"}],
    "mark":{"type":"point","shape":"circle","size":400,"stroke":"#1fae4b","strokeWidth":4,"opacity":1,"fillOpacity":1,"strokeOpacity":1},
    "encoding":{"fill":{"condition":{"test":"datum.d3","value":"#767272"},"value":"white"}}},
   {"data":{"name":"dcirc"},"transform":[{"filter":"datum.d3 && !datum.d2 && !datum.d1"}],
    "mark":{"type":"point","shape":"circle","filled":true,"size":272,"color":"#767272","opacity":1,"strokeWidth":0}},
   {"data":{"name":"dcirc"},"transform":[{"filter":"datum.d2"}],
    "mark":{"type":"point","shape":"circle","size":169,"stroke":"#0c1f5c","strokeWidth":3.2,"opacity":1,"fillOpacity":1,"strokeOpacity":1},
    "encoding":{"fill":{"condition":{"test":"datum.d3","value":"#767272"},"value":"white"}}},
   {"data":{"name":"dh3"},"mark":{"type":"text","align":"center","baseline":"middle","fontSize":17,"color":"#4a86c8"},"encoding":{"text":{"field":"t"}}},
   {"data":{"name":"dh2"},"mark":{"type":"text","align":"center","baseline":"middle","fontSize":16.2,"color":"#d6773a"},"encoding":{"text":{"field":"t"}}},
   {"data":{"name":"dh1"},"mark":{"type":"text","align":"center","baseline":"middle","fontSize":16.2,"color":"#9cc597"},"encoding":{"text":{"field":"t"}}},
   {"data":{"name":"drow"},"mark":{"type":"text","align":"center","baseline":"middle","fontSize":17.5,"color":"black"},"encoding":{"text":{"field":"t"}}},
   {"data":{"name":"dtxt"},"mark":{"type":"text","align":"left","baseline":"middle","fontSize":17.5,"color":"black"},"encoding":{"text":{"field":"t"}}},
   {"data":{"name":"dsub"},"mark":{"type":"text","align":"left","baseline":"middle","fontSize":10,"color":"black"},"encoding":{"text":{"field":"t"}}},
   {"data":{"name":"dpl"},"mark":{"type":"text","align":"center","baseline":"middle","fontSize":16.5,"color":"black"},"encoding":{"text":{"field":"t"}}},
   {"data":{"name":"dbar"},"mark":{"type":"rect","fill":{"gradient":"linear","x1":0,"y1":0,"x2":1,"y2":0,"stops":[{"offset":0,"color":"#ff3b3b"},{"offset":0.28,"color":"#ff3b3b"},{"offset":0.38,"color":"#d4505e"},{"offset":0.5,"color":"#a66a8a"},{"offset":0.62,"color":"#6e90c2"},{"offset":0.74,"color":"#38baf0"},{"offset":0.85,"color":"#30b4ee"},{"offset":1,"color":"#3192d6"}]}},
    "encoding":{"x2":{"field":"x2"},"y2":{"field":"y2"}}},
   {"data":{"name":"dtip"},"mark":{"type":"point","filled":true,"shape":"M-1,-0.85L1,0L-1,0.85Z","size":361,"color":"#3290d4","opacity":1,"strokeWidth":0}}
  ]
 }
]
}
